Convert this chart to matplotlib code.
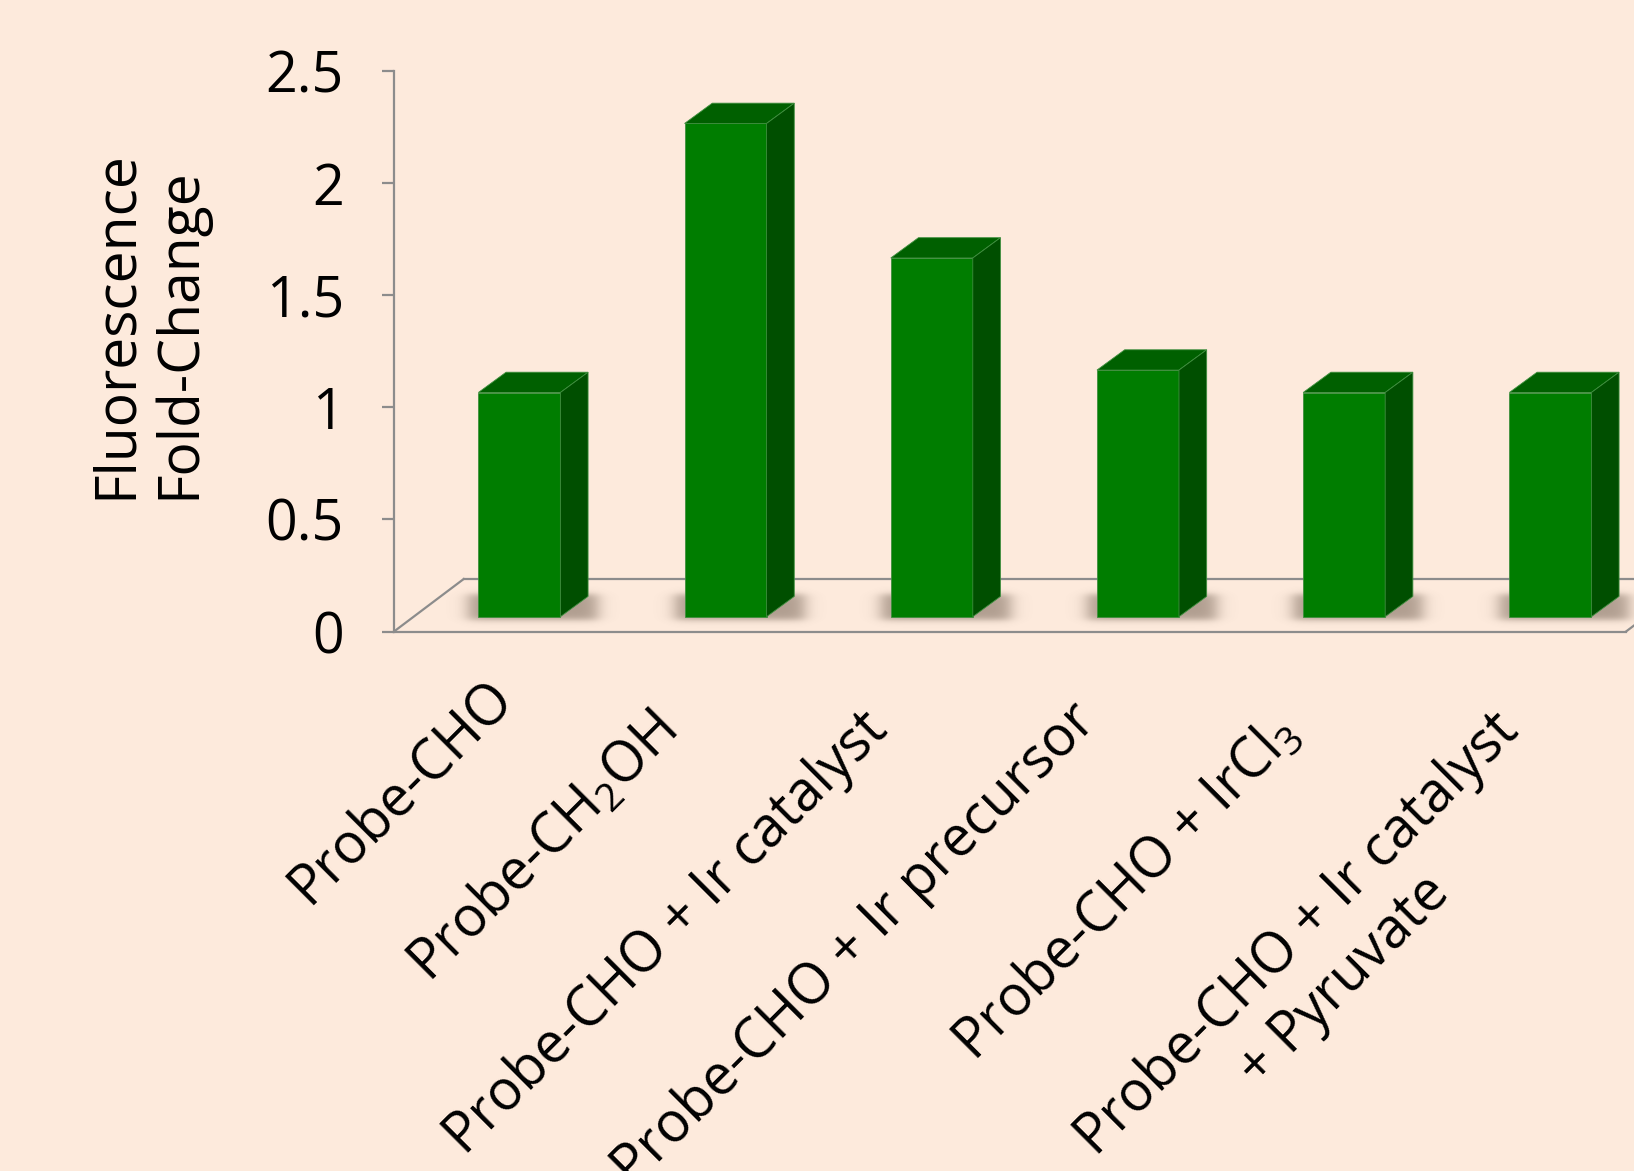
import numpy as np
import matplotlib
matplotlib.use('Agg')
import matplotlib.pyplot as plt
import matplotlib.transforms as mtransforms

# data
labels = ['Probe-CHO',
          'Probe-CH$_\\mathrm{2}$OH',
          'Probe-CHO + Ir catalyst',
          'Probe-CHO + Ir precursor',
          'Probe-CHO + IrCl$_\\mathrm{3}$',
          'Probe-CHO + Ir catalyst\n+ Pyruvate']
values = [1.0, 2.2, 1.6, 1.1, 1.0, 1.0]
yticks = [0, 0.5, 1, 1.5, 2, 2.5]
yticklabels = ['0', '0.5', '1', '1.5', '2', '2.5']

# label end positions relative to bar centre / axis (pixels)
# (last one is anchored on its second line)
label_dx = [-4, -47, -42, -40, -44, 10]
label_dy = [68, 102, 100, 92, 104, 142]

BG = '#fdeadc'
FRONT = '#007d00'
TOP = '#006000'
SIDE = '#004f00'
AXCOL = '#8c8c8c'

plt.rcParams['font.family'] = ['Open Sans', 'DejaVu Sans']
plt.rcParams['mathtext.fontset'] = 'custom'
plt.rcParams['mathtext.rm'] = 'Open Sans'
plt.rcParams['mathtext.it'] = 'Open Sans:italic'

W, H = 1634, 1171
fig = plt.figure(figsize=(W/100, H/100), dpi=100, facecolor=BG)
# axes box in pixels: left 394, y0 at 631.5, y2.5 at 71
ax = fig.add_axes([394/W, (H-631.5)/H, (W-394)/W, (631.5-71)/H])
ax.set_facecolor(BG)
ax.patch.set_visible(False)

PX_X = 206.2   # pixels per category
PX_Y = 224.2   # pixels per unit
xlim = (-0.608, -0.608 + (W-394)/PX_X)
ylim = (0, 2.5)

x = np.arange(len(values))
bw = 82/PX_X
ddx, ddy = 27.7/PX_X, 20.3/PX_Y       # bar depth
base = 14.8/PX_Y                     # bar sits inside floor
fdx, fdy = 69.7/PX_X, 52.5/PX_Y      # floor depth

# floor
x0 = xlim[0]
xr = 5.367
ax.plot([x0, xr], [0, 0], color=AXCOL, lw=1.6, clip_on=False, zorder=1)
ax.plot([x0, x0+fdx], [0, fdy], color=AXCOL, lw=1.6, clip_on=False, zorder=1)
ax.plot([x0+fdx, xr+fdx], [fdy, fdy], color=AXCOL, lw=1.6, clip_on=False, zorder=1)
ax.plot([xr, xr+fdx], [0, fdy], color=AXCOL, lw=1.6, clip_on=False, zorder=1)

# soft shadows on the floor (blurred rectangle, pixel units)
def soft_step(z):
    return 0.5 * (1 + np.tanh(1.2 * z))

sw = 82 + 27.7 + 2*10          # core width
sh = 26                        # core height
mx, my = 40, 14                # margins
gx = np.linspace(-mx, sw + mx, 220)
gy = np.linspace(-my, sh + my, 70)
GX, GY = np.meshgrid(gx, gy)
a = (soft_step(GX/11) * soft_step((sw - GX)/11) *
     soft_step(GY/4.5) * soft_step((sh - GY)/4.5))
shadow = np.zeros(a.shape + (4,))
shadow[..., 0] = 100/255
shadow[..., 1] = 82/255
shadow[..., 2] = 68/255
shadow[..., 3] = 0.5 * a
for xi in x:
    xa = xi - bw/2 - (10 + mx)/PX_X
    xb = xa + (sw + 2*mx)/PX_X
    ya = base - (3 + my)/PX_Y
    yb = ya + (sh + 2*my)/PX_Y
    ax.imshow(shadow, extent=[xa, xb, ya, yb], origin='lower', aspect='auto',
              interpolation='bilinear', zorder=2, clip_on=False)

# bars: front face, top, side
ax.bar(x, values, width=bw, bottom=base, color=FRONT, edgecolor='#3f8f3f',
       linewidth=0.6, zorder=5)
for xi, v in zip(x, values):
    l, r, t = xi - bw/2, xi + bw/2, base + v
    ax.fill([l, r, r+ddx, l+ddx], [t, t, t+ddy, t+ddy], color=TOP,
            ec='#3f8f3f', lw=0.6, zorder=5)
    ax.fill([r, r+ddx, r+ddx, r], [base, base+ddy, t+ddy, t], color=SIDE,
            ec='#3f8f3f', lw=0.6, zorder=5)

ax.set_xlim(*xlim)
ax.set_ylim(*ylim)

# axes styling
for s in ['top', 'right', 'bottom']:
    ax.spines[s].set_visible(False)
ax.spines['left'].set_color(AXCOL)
ax.spines['left'].set_linewidth(1.6)
ax.set_xticks([])
ax.set_yticks(yticks)
ax.set_yticklabels(yticklabels)
ax.tick_params(axis='y', direction='out', length=9, width=1.6, color=AXCOL,
               pad=27, labelsize=40)

# rotated category labels
for xi, lab, dx, dy in zip(x, labels, label_dx, label_dy):
    off = mtransforms.ScaledTranslation(dx/100, -dy/100, fig.dpi_scale_trans)
    ax.text(xi, 0, lab, transform=ax.transData + off, rotation=45,
            rotation_mode='anchor', ha='right', va='baseline',
            multialignment='center', fontsize=40, clip_on=False)

fig.text(148/W, 1 - 325/H, 'Fluorescence\nFold-Change', rotation=90,
         ha='center', va='center', multialignment='left', fontsize=41,
         linespacing=1.15)

fig.savefig('out.png', dpi=100, facecolor=BG)
